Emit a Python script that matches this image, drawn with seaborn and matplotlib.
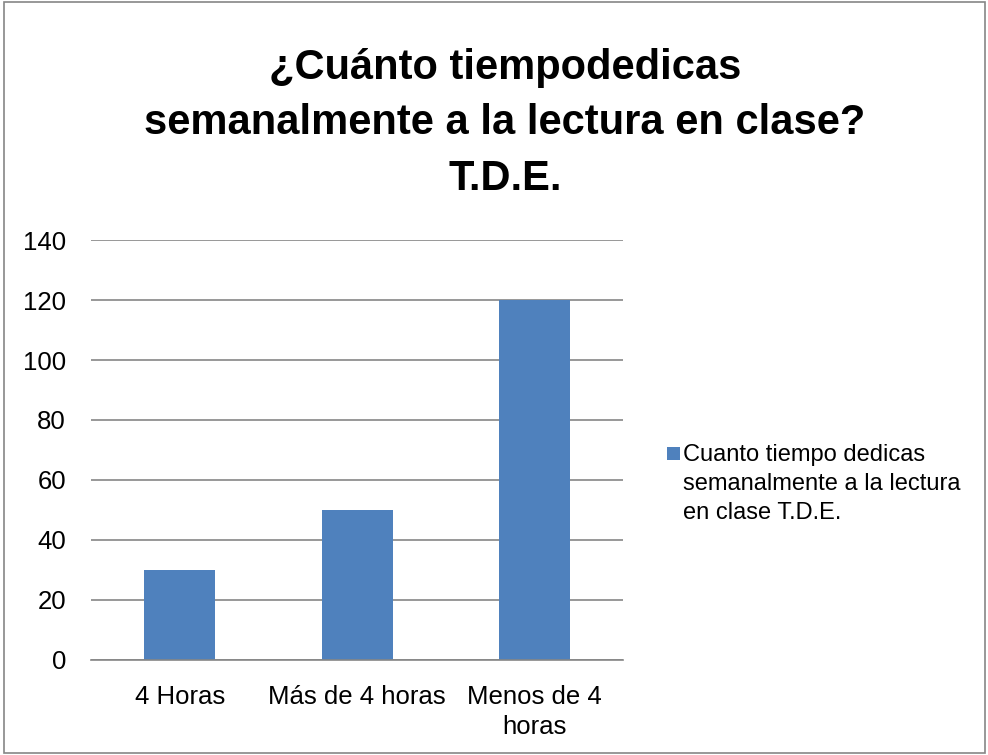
import matplotlib
matplotlib.use("Agg")
import matplotlib.pyplot as plt
import seaborn as sns
import pandas as pd
from matplotlib.patches import Rectangle, Patch
from matplotlib.ticker import FixedLocator
from matplotlib.legend_handler import HandlerPatch

categories = ["4 Horas", "Más de 4 horas", "Menos de 4\nhoras"]
values = [30, 50, 120]
series_name = "Cuanto tiempo dedicas\nsemanalmente a la lectura\nen clase T.D.E."
title = "¿Cuánto tiempodedicas\nsemanalmente a la lectura en clase?\nT.D.E."
yticks = [0, 20, 40, 60, 80, 100, 120, 140]

sns.set_theme(style="white")
plt.rcParams['font.family'] = ['Liberation Sans', 'DejaVu Sans']
plt.rcParams['text.color'] = 'black'

df = pd.DataFrame({"cat": categories, "val": values})

fig = plt.figure(figsize=(9.88, 7.55), dpi=100)
ax = fig.add_axes([0.092, 0.126, 0.539, 0.556])
color = "#4F81BD"
sns.barplot(data=df, x="cat", y="val", color=color, width=0.4, ax=ax, saturation=1,
            linewidth=0, edgecolor="none")

ax.set_ylim(0, 140)
ax.set_xlim(-0.5, 2.5)
ax.set_yticks(yticks)
ax.yaxis.grid(True, color="#868686", linewidth=1.2)
ax.set_axisbelow(True)
for s in ["top", "right", "left"]:
    ax.spines[s].set_visible(False)
ax.spines["bottom"].set_color("#868686")
ax.spines["bottom"].set_linewidth(1.2)
ax.set_xlabel("")
ax.set_ylabel("")
ax.tick_params(axis="y", length=0, pad=18, labelsize=18.5, labelcolor="black")
ax.tick_params(axis="x", which="major", length=0, pad=18, labelsize=18.5, labelcolor="black")
ax.xaxis.set_minor_locator(FixedLocator([-0.5, 0.5, 1.5, 2.5]))
ax.tick_params(axis="x", which="minor", length=7, width=1.2, color="#868686", direction="out")
for lab in ax.get_xticklabels():
    lab.set_linespacing(1.3)

fig.text(0.511, 0.837, title, ha="center", va="center", fontsize=30, fontweight="bold",
         linespacing=1.5, color="black")

LEG_FS = 17

def square_top(legend, orig_handle, xdescent, ydescent, width, height, fontsize):
    s = 0.55 * fontsize
    return Rectangle((-xdescent, -ydescent + 1.36 * fontsize), s, s)

handles = [Patch(facecolor=color, edgecolor="none")]
leg = fig.legend(handles, [series_name], loc="center left", bbox_to_anchor=(0.6656, 0.359),
                 frameon=False, fontsize=LEG_FS, handlelength=0.55, handleheight=0.7,
                 handletextpad=0.13, borderaxespad=0,
                 handler_map={Patch: HandlerPatch(patch_func=square_top)})
for t in leg.get_texts():
    t.set_linespacing(1.4)
    t.set_color("black")

fig.patches.append(Rectangle((0.004, 0.002), 0.993, 0.995, transform=fig.transFigure,
                             fill=False, edgecolor="#868686", linewidth=1.2))

fig.savefig("out.png", dpi=100)
